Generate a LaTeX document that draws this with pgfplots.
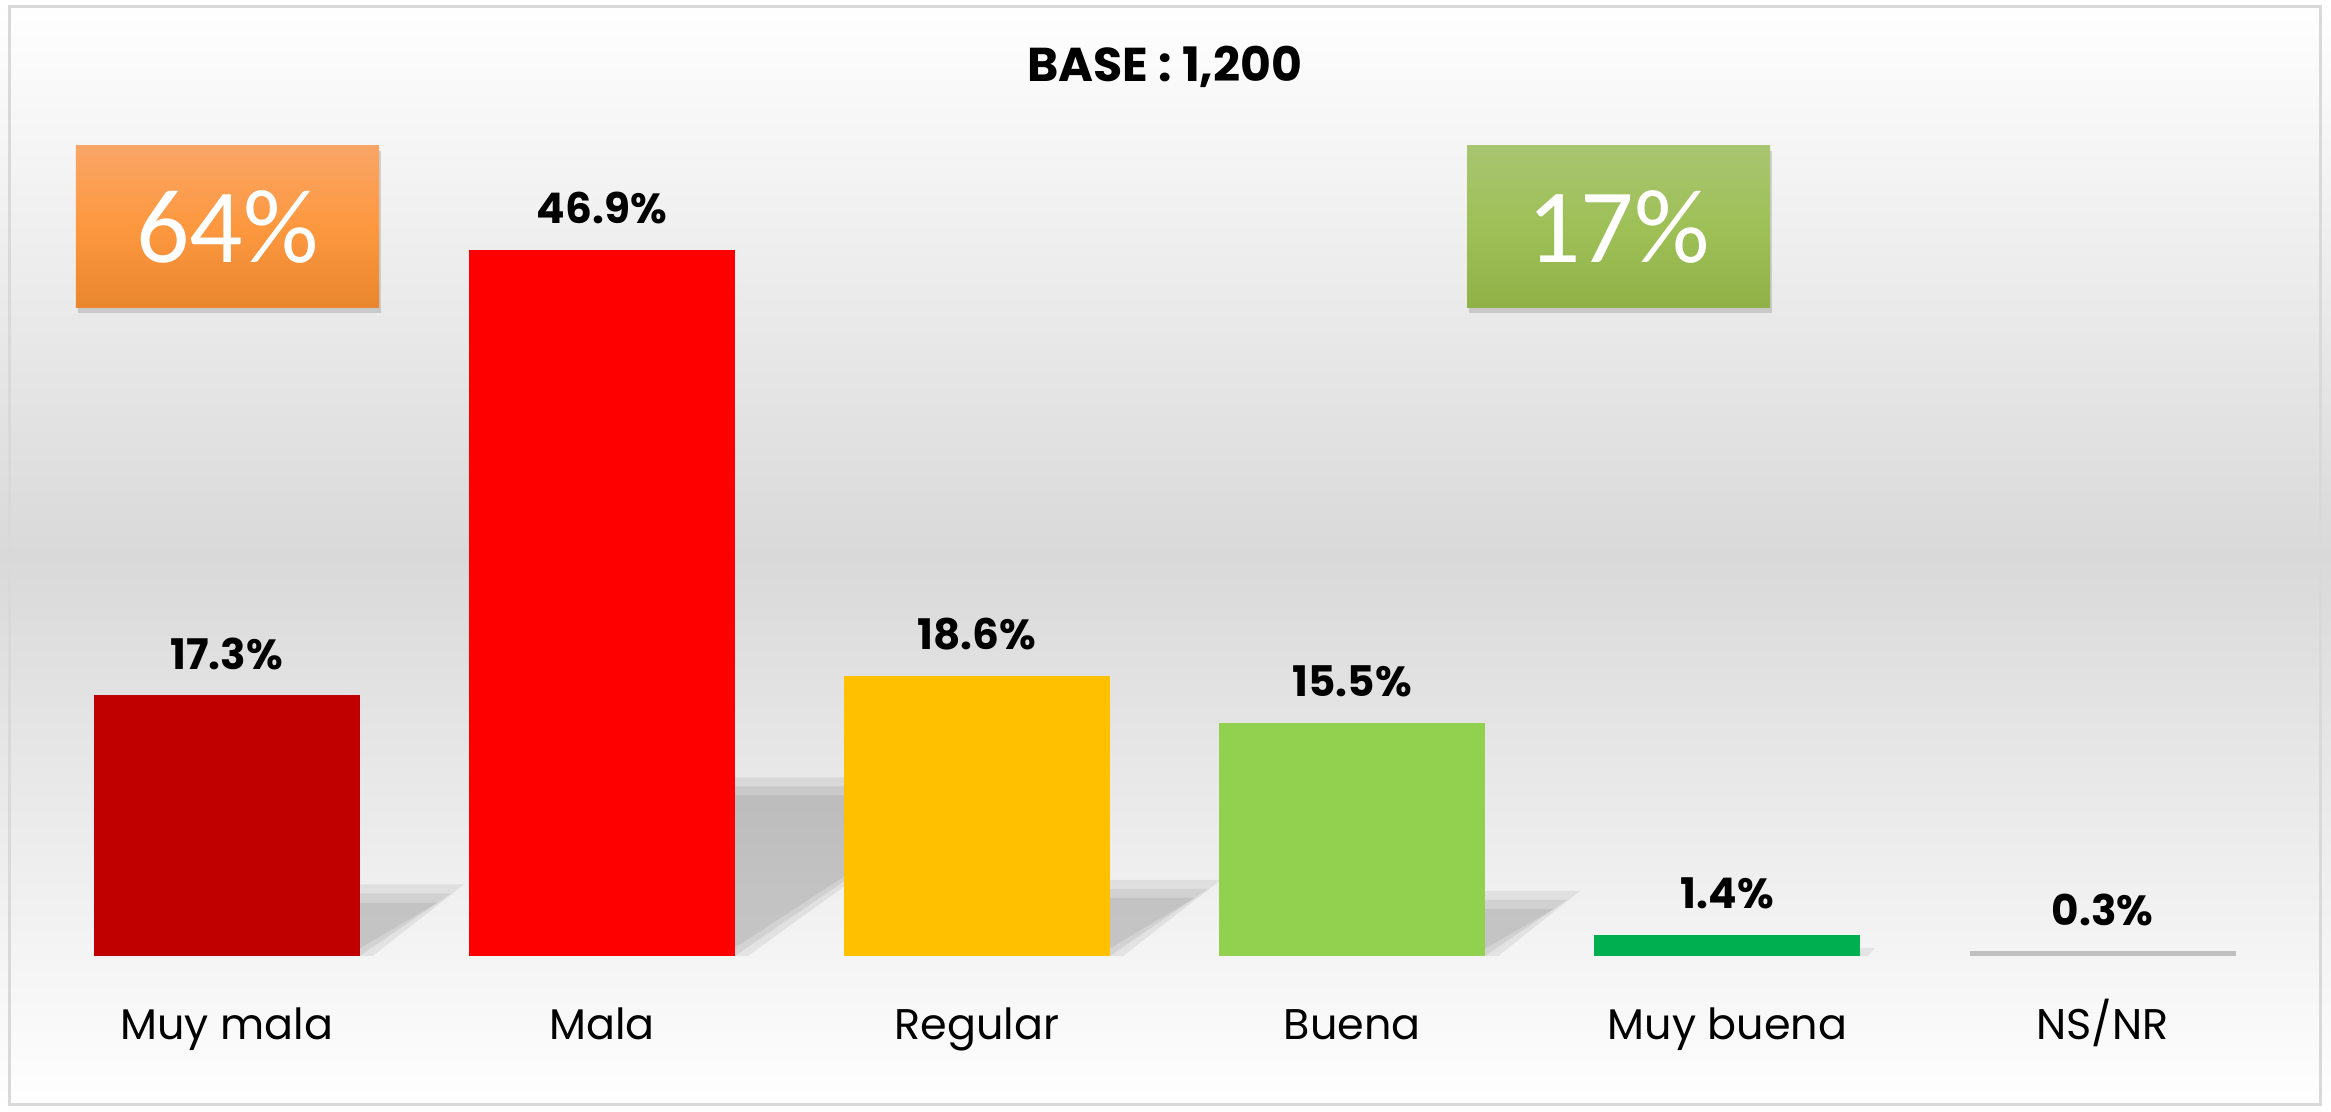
\documentclass[border=0pt]{standalone}
\usepackage{fontspec}
\usepackage{pgfplots}
\pgfplotsset{compat=1.18}
\usetikzlibrary{shadows}
\newfontfamily\poppins{Poppins}
\newfontfamily\carlito{Carlito}
\definecolor{cMM}{HTML}{C00000}
\definecolor{cM}{HTML}{FF0000}
\definecolor{cR}{HTML}{FFC000}
\definecolor{cB}{HTML}{92D050}
\definecolor{cMB}{HTML}{00B050}
\definecolor{cNS}{HTML}{BFBFBF}
\definecolor{bgmid}{RGB}{217,217,217}
\definecolor{bordergray}{RGB}{217,217,217}
\definecolor{orTop}{RGB}{249,165,102}
\definecolor{orMid}{RGB}{253,152,63}
\definecolor{orBot}{RGB}{232,134,46}
\definecolor{grTop}{RGB}{168,197,112}
\definecolor{grMid}{RGB}{158,192,87}
\definecolor{grBot}{RGB}{143,177,70}
\pgfplotsset{
  valbar/.style={ybar, bar shift=0pt, bar width=2.66cm, draw=none, fill=#1,
    point meta=y,
    nodes near coords={\pgfmathprintnumber[fixed,fixed zerofill,precision=1,assume math mode=true]{\pgfplotspointmeta}\%},
    every node near coord/.append style={font=\poppins\bfseries\fontsize{12}{12}\selectfont, text=black, anchor=base, inner sep=0pt, yshift=0.26cm}},
  shadowpoly/.style={draw=none, fill=black, fill opacity=0.065}
}
\begin{document}
\begin{tikzpicture}
\fill[top color=white, bottom color=bgmid] (0,5.56) rectangle (23.31,11.12);
\fill[top color=bgmid, bottom color=white] (0,0) rectangle (23.31,5.56);
\draw[color=bordergray, line width=0.3mm] (0.095,0.07) rectangle (23.20,11.05);
\node[anchor=base, font=\poppins\bfseries\fontsize{13.5}{13.5}\selectfont] at (11.65,10.30) {BASE : 1,200};
\begin{axis}[at={(0.391cm,1.56cm)}, anchor=south west, scale only axis,
  width=22.51cm, height=7.53cm, xmin=-0.5, xmax=5.5, ymin=0, ymax=50,
  axis x line=bottom, axis y line=none,
  x axis line style={draw=none},
  xtick={0,1,2,3,4,5},
  xticklabels={Muy mala, Mala, Regular, Buena, Muy buena, NS/NR},
  major tick length=0pt,
  xticklabel style={font=\poppins\fontsize{12.2}{12.2}\selectfont, anchor=base, yshift=-0.84cm, inner sep=0pt},
  clip=false]
% perspective shadows (decoration), three soft layers each
\addplot[shadowpoly] coordinates {(0.3895,0) (0.6325,4.75) (-0.111,4.75) (-0.3545,0)} --cycle;
\addplot[shadowpoly] coordinates {(0.3545,0) (0.5975,4.15) (-0.111,4.15) (-0.3545,0)} --cycle;
\addplot[shadowpoly] coordinates {(0.3195,0) (0.5625,3.55) (-0.111,3.55) (-0.3545,0)} --cycle;
\addplot[shadowpoly] coordinates {(1.3895,0) (2.0485,11.86) (1.3045,11.86) (0.6455,0)} --cycle;
\addplot[shadowpoly] coordinates {(1.3545,0) (2.0135,11.26) (1.3045,11.26) (0.6455,0)} --cycle;
\addplot[shadowpoly] coordinates {(1.3195,0) (1.9785,10.66) (1.3045,10.66) (0.6455,0)} --cycle;
\addplot[shadowpoly] coordinates {(2.3895,0) (2.6505,5.06) (1.9065,5.06) (1.6455,0)} --cycle;
\addplot[shadowpoly] coordinates {(2.3545,0) (2.6155,4.46) (1.9065,4.46) (1.6455,0)} --cycle;
\addplot[shadowpoly] coordinates {(2.3195,0) (2.5805,3.86) (1.9065,3.86) (1.6455,0)} --cycle;
\addplot[shadowpoly] coordinates {(3.3895,0) (3.6075,4.32) (2.8635,4.32) (2.6455,0)} --cycle;
\addplot[shadowpoly] coordinates {(3.3545,0) (3.5725,3.72) (2.8635,3.72) (2.6455,0)} --cycle;
\addplot[shadowpoly] coordinates {(3.3195,0) (3.5375,3.12) (2.8635,3.12) (2.6455,0)} --cycle;
\addplot[shadowpoly] coordinates {(4.3745,0) (4.394,0.54) (3.665,0.54) (3.6455,0)} --cycle;
% bars
\addplot[valbar=cMM] coordinates {(0,17.3)};
\addplot[valbar=cM] coordinates {(1,46.9)};
\addplot[valbar=cR] coordinates {(2,18.6)};
\addplot[valbar=cB] coordinates {(3,15.5)};
\addplot[valbar=cMB] coordinates {(4,1.4)};
\addplot[valbar=cNS] coordinates {(5,0.3)};
\end{axis}
\node[minimum width=3.03cm, minimum height=1.62cm, inner sep=0pt,
  top color=orTop, bottom color=orBot, middle color=orMid,
  drop shadow={shadow xshift=0.02cm, shadow yshift=-0.05cm, opacity=0.3},
  text=white, font=\carlito\fontsize{30}{30}\selectfont] at (2.275,8.85) {64\%};
\node[minimum width=3.03cm, minimum height=1.62cm, inner sep=0pt,
  top color=grTop, bottom color=grBot, middle color=grMid,
  drop shadow={shadow xshift=0.02cm, shadow yshift=-0.05cm, opacity=0.3},
  text=white, font=\carlito\fontsize{30}{30}\selectfont] at (16.185,8.85) {17\%};
\end{tikzpicture}
\end{document}
